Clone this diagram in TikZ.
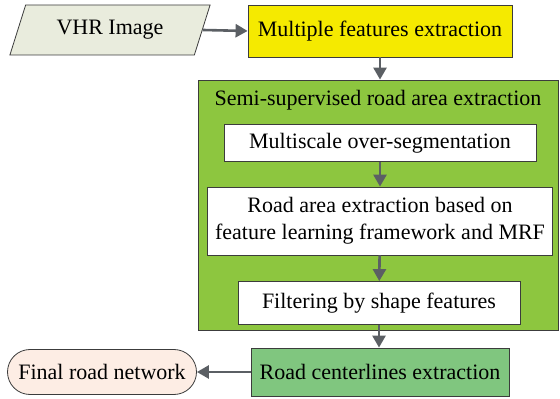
\documentclass[tikz,border=0pt]{standalone}
\usepackage{fontspec}
\setmainfont{Liberation Serif}
\usetikzlibrary{arrows.meta,positioning,shapes.geometric}
\definecolor{borda}{HTML}{3C3C3C}
\definecolor{seta}{HTML}{5B5F64}
\definecolor{cinzaclaro}{HTML}{E9ECDD}
\definecolor{amarelo}{HTML}{F5EA00}
\definecolor{verde}{HTML}{8DC63F}
\definecolor{verdemedio}{HTML}{80C67F}
\definecolor{pessego}{HTML}{FDEDE4}

\begin{document}
\begin{tikzpicture}[
  x=0.5pt,y=-0.5pt,
  proc/.style={draw=borda,fill=white,inner sep=0pt,align=center,
               font=\fontsize{11}{13.5}\selectfont},
  arr/.style={-{Triangle[length=6pt,width=6.5pt]},line width=1.3pt,draw=seta,fill=seta}
]
  \useasboundingbox (0,0) rectangle (560,399);
  % entrada e primeira etapa
  \node[proc,trapezium,trapezium left angle=62.5,trapezium right angle=117.5,
        trapezium stretches=true,fill=cinzaclaro,minimum width=100.5pt,
        minimum height=25pt] (vhr) at (110,30) {VHR Image};
  \node[proc,fill=amarelo,minimum width=132pt,minimum height=26pt] (feat) at (380,31) {Multiple features extraction};
  % bloco semi-supervisionado
  \node[proc,fill=verde,minimum width=180pt,minimum height=125pt] (semi) at (378,205) {};
  \node[font=\fontsize{11}{13.5}\selectfont,inner sep=0pt] (semititle) at (378,100) {Semi-supervised road area extraction};
  \node[proc,minimum width=156pt,minimum height=18.5pt] (multi) at (380,143) {Multiscale over-segmentation};
  \node[proc,minimum width=172.5pt,minimum height=34pt] (area) at (380,221) {Road area extraction based on\\feature learning framework and MRF};
  \node[proc,minimum width=141pt,minimum height=21.5pt] (filt) at (379,303) {Filtering by shape features};
  % saida
  \node[proc,fill=verdemedio,minimum width=129pt,minimum height=24pt] (centre) at (380,372) {Road centerlines extraction};
  \node[proc,fill=pessego,rounded corners=11.25pt,minimum width=94.5pt,minimum height=22.5pt] (final) at (102,372) {Final road network};
  \draw[arr] (vhr.east) -- (feat.west);
  \draw[arr] (feat.south) -- (feat.south |- semi.north);
  \draw[arr] (multi) -- (area);
  \draw[arr] (area) -- (filt);
  \draw[arr] (filt.south) -- (filt.south |- centre.north);
  \draw[arr] (centre) -- (final);
\end{tikzpicture}
\end{document}
